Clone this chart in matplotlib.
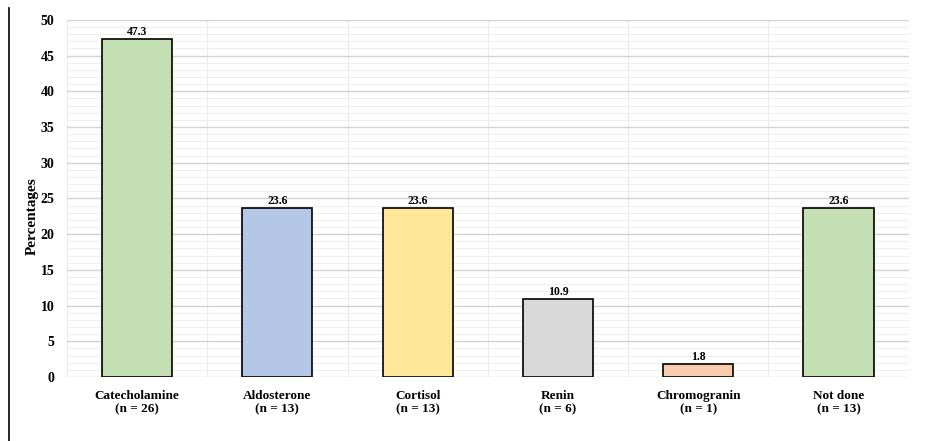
import matplotlib.pyplot as plt
from matplotlib.lines import Line2D
from matplotlib.ticker import MultipleLocator

# Hormone tests performed (percent of patients)
categories = ["Catecholamine", "Aldosterone", "Cortisol", "Renin", "Chromogranin", "Not done"]
counts = [26, 13, 13, 6, 1, 13]
percentages = [47.3, 23.6, 23.6, 10.9, 1.8, 23.6]
colors = ["#C5E0B4", "#B4C7E7", "#FFE699", "#D9D9D9", "#F8CBAD", "#C5E0B4"]

plt.rcParams["font.family"] = ["Liberation Serif", "DejaVu Serif"]
plt.rcParams["font.weight"] = "bold"

fig = plt.figure(figsize=(9.28, 4.41), dpi=100)
ax = fig.add_axes([0.0722, 0.145, 0.907, 0.81])

x = list(range(len(categories)))
bars = ax.bar(x, percentages, width=0.5, color=colors, edgecolor="black", linewidth=1.2, zorder=3)

for b, v in zip(bars, percentages):
    ax.text(b.get_x() + b.get_width() / 2, v + 0.2, f"{v}", ha="center", va="bottom",
            fontsize=8.5, fontweight="bold")

labels = [f"{c}\n(n = {n})" for c, n in zip(categories, counts)]
ax.set_xticks(x)
ax.set_xticklabels(labels, fontsize=9.5, fontweight="bold")
ax.set_xlim(-0.5, len(categories) - 0.5)
ax.set_xticks([i + 0.5 for i in range(-1, len(categories))], minor=True)

ax.set_ylim(0, 50)
ax.yaxis.set_major_locator(MultipleLocator(5))
ax.yaxis.set_minor_locator(MultipleLocator(1))
ax.tick_params(axis="y", labelsize=10, length=0, pad=9)
ax.tick_params(axis="x", length=0, pad=9)
ax.tick_params(which="minor", length=0)
for lbl in ax.get_yticklabels():
    lbl.set_fontweight("bold")

ax.grid(axis="y", which="major", color="#D3D3D3", linewidth=1.0, zorder=0)
ax.grid(axis="y", which="minor", color="#EFEFEF", linewidth=0.8, zorder=0)
ax.grid(axis="x", which="minor", color="#EBEBEB", linewidth=0.8, zorder=0)
ax.grid(axis="x", which="major", visible=False)

for s in ax.spines.values():
    s.set_visible(False)

ax.set_ylabel("Percentages", fontsize=11, fontweight="bold")
ax.yaxis.set_label_coords(-0.034, 0.45)

# left frame line
fig.add_artist(Line2D([0.0092, 0.0092], [0.0, 0.982], color="black", linewidth=1.2))

fig.savefig("out.png", dpi=100)
